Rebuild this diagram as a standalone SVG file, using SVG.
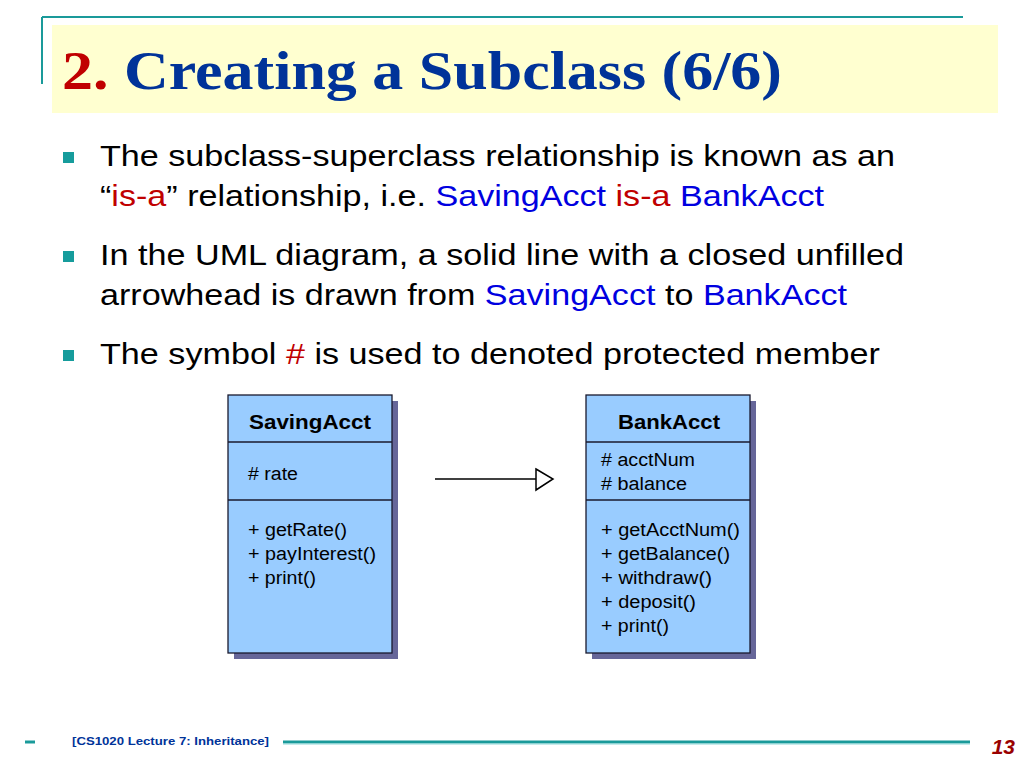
<svg xmlns="http://www.w3.org/2000/svg" width="1024" height="768" viewBox="0 0 1024 768">
<style>
.body{font-family:"Liberation Sans",Arial,sans-serif;font-size:30px;fill:#000}
.red{fill:#c00000}
.blue{fill:#0000e0}
.bul{fill:#169c9c}
.box{fill:#99ccff;stroke:#1a1a2e;stroke-width:1.3}
.shadow{fill:#666699}
.div{stroke:#1a1a2e;stroke-width:1.3}
.cname{font-family:"Liberation Sans",Arial,sans-serif;font-size:20px;font-weight:bold;fill:#000}
.mem{font-family:"Liberation Sans",Arial,sans-serif;font-size:18px;fill:#000}
.teal{stroke:#1a9a9a;fill:none}
</style>
<rect width="1024" height="768" fill="#fff"/>
<g id="title">
<path class="teal" d="M42 17 H963 M42 17 V84" stroke-width="2"/>
<rect x="52" y="25" width="946" height="88" fill="#ffffd0"/>
<text x="62" y="89" font-family="'Liberation Serif','Times New Roman',serif" font-size="54" font-weight="bold" fill="#003399" textLength="720" lengthAdjust="spacingAndGlyphs"><tspan fill="#c00000">2.</tspan> Creating a Subclass (6/6)</text>
</g>
<g id="bullets">
<rect class="bul" x="63" y="152" width="11" height="11"/>
<text class="body" x="100" y="166" textLength="795" lengthAdjust="spacingAndGlyphs">The subclass-superclass relationship is known as an</text>
<text class="body" x="100" y="206" textLength="724" lengthAdjust="spacingAndGlyphs">“<tspan class="red">is-a</tspan>” relationship, i.e. <tspan class="blue">SavingAcct</tspan> <tspan class="red">is-a</tspan> <tspan class="blue">BankAcct</tspan></text>
<rect class="bul" x="63" y="251" width="11" height="11"/>
<text class="body" x="100" y="265" textLength="804" lengthAdjust="spacingAndGlyphs">In the UML diagram, a solid line with a closed unfilled</text>
<text class="body" x="100" y="305" textLength="747" lengthAdjust="spacingAndGlyphs">arrowhead is drawn from <tspan class="blue">SavingAcct</tspan> to <tspan class="blue">BankAcct</tspan></text>
<rect class="bul" x="63" y="350" width="11" height="11"/>
<text class="body" x="100" y="364" textLength="780" lengthAdjust="spacingAndGlyphs">The symbol <tspan class="red">#</tspan> is used to denoted protected member</text>
</g>
<g id="SavingAcct">
<rect class="shadow" x="234" y="401" width="164" height="258"/>
<rect class="box" x="228" y="395" width="164" height="258"/>
<line class="div" x1="228" y1="442" x2="392" y2="442"/>
<line class="div" x1="228" y1="500" x2="392" y2="500"/>
<text class="cname" x="249" y="429" textLength="122" lengthAdjust="spacingAndGlyphs">SavingAcct</text>
<text class="mem" x="248" y="480" textLength="50" lengthAdjust="spacingAndGlyphs"># rate</text>
<text class="mem" x="248" y="536" textLength="99" lengthAdjust="spacingAndGlyphs">+ getRate()</text>
<text class="mem" x="248" y="560" textLength="128" lengthAdjust="spacingAndGlyphs">+ payInterest()</text>
<text class="mem" x="248" y="584" textLength="68" lengthAdjust="spacingAndGlyphs">+ print()</text>
</g>
<g id="BankAcct">
<rect class="shadow" x="592" y="401" width="164" height="258"/>
<rect class="box" x="586" y="395" width="164" height="258"/>
<line class="div" x1="586" y1="442" x2="750" y2="442"/>
<line class="div" x1="586" y1="500" x2="750" y2="500"/>
<text class="cname" x="618" y="429" textLength="102" lengthAdjust="spacingAndGlyphs">BankAcct</text>
<text class="mem" x="601" y="466" textLength="94" lengthAdjust="spacingAndGlyphs"># acctNum</text>
<text class="mem" x="601" y="490" textLength="86" lengthAdjust="spacingAndGlyphs"># balance</text>
<text class="mem" x="601" y="536" textLength="139" lengthAdjust="spacingAndGlyphs">+ getAcctNum()</text>
<text class="mem" x="601" y="560" textLength="129" lengthAdjust="spacingAndGlyphs">+ getBalance()</text>
<text class="mem" x="601" y="584" textLength="111" lengthAdjust="spacingAndGlyphs">+ withdraw()</text>
<text class="mem" x="601" y="608" textLength="95" lengthAdjust="spacingAndGlyphs">+ deposit()</text>
<text class="mem" x="601" y="632" textLength="68" lengthAdjust="spacingAndGlyphs">+ print()</text>
</g>
<g id="connectors">
<line x1="435" y1="479" x2="536" y2="479" stroke="#000" stroke-width="1.5"/>
<polygon points="536,469 553,479 536,490" fill="#fff" stroke="#000" stroke-width="1.5"/>
</g>
<g id="footer">
<line x1="25" y1="742" x2="35" y2="742" stroke="#1a9a9a" stroke-width="3"/>
<text x="72" y="745" font-family="'Liberation Sans',Arial,sans-serif" font-size="11" font-weight="bold" fill="#003399" textLength="197" lengthAdjust="spacingAndGlyphs">[CS1020 Lecture 7: Inheritance]</text>
<line x1="283" y1="742" x2="970" y2="742" stroke="#1a9a9a" stroke-width="3"/>
<line x1="283" y1="744" x2="970" y2="744" stroke="#8fd8d8" stroke-width="1"/>
<text x="1015" y="754" text-anchor="end" font-family="'Liberation Sans',Arial,sans-serif" font-size="21" font-weight="bold" font-style="italic" fill="#990000">13</text>
</g>
</svg>
